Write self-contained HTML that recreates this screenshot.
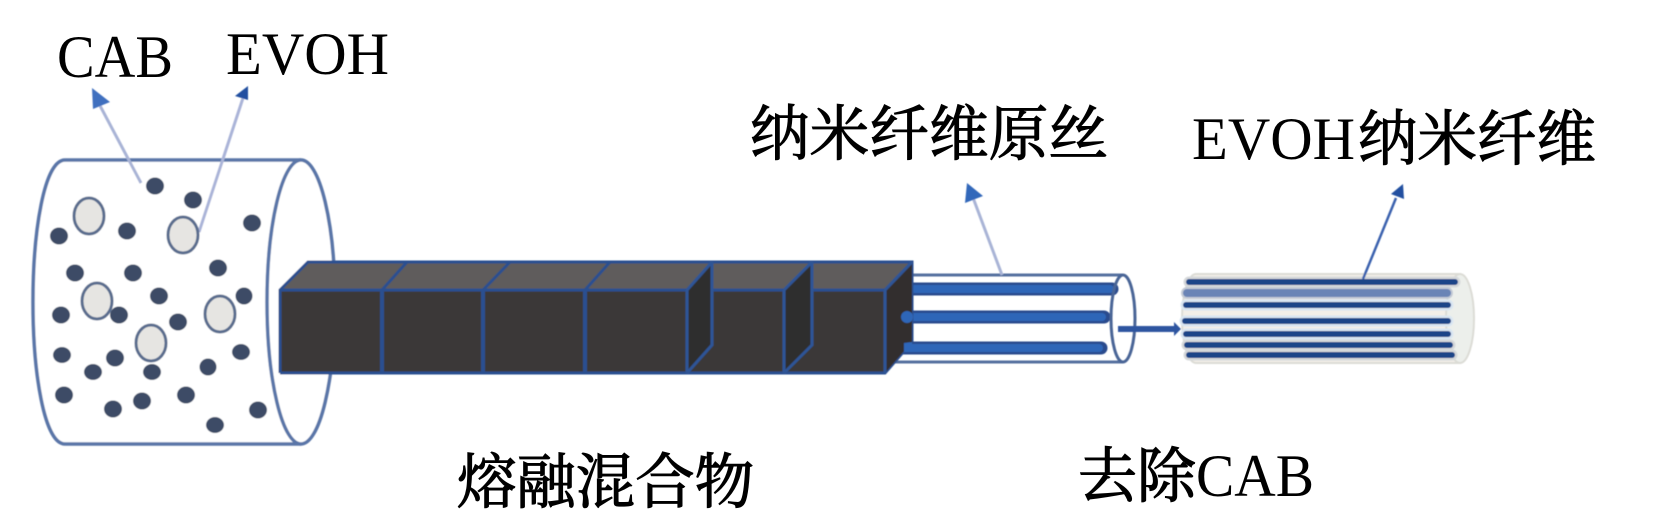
<!DOCTYPE html>
<html><head><meta charset="utf-8"><style>
html,body{margin:0;padding:0;background:#fff;width:1656px;height:528px;overflow:hidden}
svg{display:block}
text{fill:#000}
.lat{font-family:"Liberation Serif",serif;font-size:60px}
.cjk{font-family:"Liberation Serif","Noto Serif CJK SC",serif;font-size:60px;font-weight:400;stroke:#000;stroke-width:1.1px}
</style></head><body>
<svg width="1656" height="528" viewBox="0 0 1656 528" xmlns="http://www.w3.org/2000/svg">
<defs><filter id="b" x="-5%" y="-5%" width="110%" height="110%"><feGaussianBlur stdDeviation="0.6"/></filter></defs>
<g filter="url(#b)">
<!-- cylinder -->
<path d="M301 160H65C44 160 33 232 33 302C33 372 44 444 65 444H301" fill="#fff" stroke="#5a76a8" stroke-width="3.5"/>
<ellipse cx="301" cy="302" rx="34" ry="142" fill="#fff" stroke="#5a76a8" stroke-width="3.5"/>
<!-- arrows left -->
<path d="M141 183L97 100" stroke="#a9b4d6" stroke-width="3" fill="none"/>
<path d="M92 88L110 102L93 109Z" fill="#3f6fbf"/>
<path d="M199 232L243 98" stroke="#aab4d8" stroke-width="3" fill="none"/>
<path d="M248 86L248 100L235 96Z" fill="#204fa0"/>
<g fill="#3c4c66">
<ellipse cx="155" cy="186" rx="9" ry="8.5"/><ellipse cx="193" cy="200" rx="9" ry="8.5"/><ellipse cx="252" cy="223" rx="9" ry="8.5"/>
<ellipse cx="59" cy="236" rx="9" ry="8.5"/><ellipse cx="127" cy="231" rx="9" ry="8.5"/><ellipse cx="75" cy="273" rx="9" ry="8.5"/>
<ellipse cx="133" cy="273" rx="9" ry="8.5"/><ellipse cx="218" cy="268" rx="9" ry="8.5"/><ellipse cx="159" cy="296" rx="9" ry="8.5"/>
<ellipse cx="244" cy="296" rx="8.5" ry="8.5"/><ellipse cx="61" cy="315" rx="9" ry="8.5"/><ellipse cx="119" cy="315" rx="9" ry="8.5"/>
<ellipse cx="178" cy="322" rx="9" ry="8.5"/><ellipse cx="62" cy="355" rx="9" ry="8"/><ellipse cx="115" cy="358" rx="9" ry="8.5"/>
<ellipse cx="93" cy="372" rx="9" ry="8"/><ellipse cx="152" cy="372" rx="9" ry="8"/><ellipse cx="241" cy="352" rx="9" ry="8"/>
<ellipse cx="208" cy="367" rx="8.5" ry="8.5"/><ellipse cx="64" cy="395" rx="9" ry="8.5"/><ellipse cx="113" cy="409" rx="9" ry="8.5"/>
<ellipse cx="142" cy="401" rx="9" ry="8.5"/><ellipse cx="186" cy="395" rx="9" ry="8.5"/><ellipse cx="215" cy="425" rx="9" ry="8"/>
<ellipse cx="258" cy="410" rx="9" ry="8.5"/>
</g>
<g fill="#e6e5e2" stroke="#5a6d8e" stroke-width="3">
<ellipse cx="89" cy="216" rx="15" ry="18"/><ellipse cx="183" cy="235" rx="15" ry="18"/><ellipse cx="97" cy="301" rx="15" ry="18"/>
<ellipse cx="220" cy="314" rx="15" ry="18"/><ellipse cx="151" cy="343" rx="15" ry="18"/>
</g>
<!-- tube -->
<path d="M912 275H1123M887 362H1123" stroke="#54709f" stroke-width="3" fill="none"/>
<path d="M908 289H1112" stroke="#2b4c8e" stroke-width="13" stroke-linecap="round"/>
<path d="M908 289H1110" stroke="#2f66b8" stroke-width="8" stroke-linecap="round"/>
<path d="M908 317H1104" stroke="#2b4c8e" stroke-width="13" stroke-linecap="round"/>
<path d="M908 317H1102" stroke="#2f66b8" stroke-width="8" stroke-linecap="round"/>
<path d="M890 348H1101" stroke="#2b4c8e" stroke-width="13" stroke-linecap="round"/>
<path d="M890 348H1099" stroke="#2f66b8" stroke-width="8" stroke-linecap="round"/>
<!-- box -->
<path d="M280 290L308 262H912V342L885 373H280Z" fill="#3a3838"/>
<path d="M280 290L308 262H912L885 290Z" fill="#5f5c5c"/>
<g stroke="#2c4f90" fill="none" stroke-width="3">
<path d="M280 373V290L308 262H912V342L885 373H280"/>
<path d="M280 290H885L912 262"/>
<path d="M382 290V373M483 290V373M585 290V373" stroke-width="4"/>
<path d="M382 290L407 262M483 290L510 262M585 290L610 262"/>
</g>
<path d="M885 290L912 262V342L885 373Z" fill="#322f2f"/>
<path d="M687 290L712 264V345L687 373Z" fill="#2f2d2d"/>
<path d="M784 290L812 264V345L784 373Z" fill="#2f2d2d"/>
<g stroke="#2f5596" fill="none" stroke-width="3">
<path d="M885 290V373M885 290L912 262"/>
<path d="M687 290V373M712 262V345L687 373M687 290L712 262"/>
<path d="M784 290V373M812 262V345L784 373M784 290L812 262"/>
</g>
<circle cx="907" cy="317" r="6" fill="#2f66b8"/>
<path d="M904 343L912 342V352L904 352Z" fill="#2f66b8"/>
<ellipse cx="1123" cy="318.5" rx="12" ry="43.5" fill="none" stroke="#4a6596" stroke-width="3"/>
<path d="M1118 329H1176" stroke="#2f55a0" stroke-width="6"/>
<path d="M1174 322L1181 329L1174 336Z" fill="#2f55a0"/>
<!-- fibers -->
<path d="M1460 274H1196C1188 274 1182 295 1182 318.5C1182 342 1188 363 1196 363H1460Z" fill="#f3efe8" stroke="#dcdcd6" stroke-width="2"/>
<ellipse cx="1460" cy="318.5" rx="14" ry="44.5" fill="#ecefeb" stroke="#dcdcd6" stroke-width="2"/>
<g stroke-linecap="round" fill="none">
<path d="M1189 282H1455" stroke="#d5d8da" stroke-width="11"/>
<path d="M1187 293H1447" stroke="#c4cbd6" stroke-width="12"/>
<path d="M1186 305H1448" stroke="#d9e6f2" stroke-width="11"/>
<path d="M1185 321H1448" stroke="#d9e6f2" stroke-width="11"/>
<path d="M1186 334H1448" stroke="#d9e6f2" stroke-width="11"/>
<path d="M1187 345H1450" stroke="#d5d8da" stroke-width="11"/>
<path d="M1189 355H1452" stroke="#d5d8da" stroke-width="11"/>
<path d="M1189 282H1455" stroke="#1f4488" stroke-width="6"/>
<path d="M1187 293H1447" stroke="#6a84b6" stroke-width="8"/>
<path d="M1186 305H1448" stroke="#1f4488" stroke-width="6"/>
<path d="M1185 321H1448" stroke="#1f4488" stroke-width="6"/>
<path d="M1186 334H1448" stroke="#1f4488" stroke-width="6"/>
<path d="M1187 345H1450" stroke="#1f4488" stroke-width="6"/>
<path d="M1189 355H1452" stroke="#1f4488" stroke-width="6"/>
</g>
<!-- upper arrows -->
<path d="M1002 275L972 195" stroke="#a9b4d6" stroke-width="3" fill="none"/>
<path d="M967 183L983 196L965 203Z" fill="#3368ba"/>
<path d="M1363 279L1396 198" stroke="#3a62ae" stroke-width="2.5" fill="none"/>
<path d="M1403 184L1404 199L1391 194Z" fill="#204fa0"/>
</g>
<text class="lat" x="57" y="77" textLength="116" lengthAdjust="spacingAndGlyphs">CAB</text>
<text class="lat" x="226" y="74" textLength="163" lengthAdjust="spacingAndGlyphs">EVOH</text>
<text class="cjk" x="750" y="155" textLength="358" lengthAdjust="spacingAndGlyphs">纳米纤维原丝</text>
<text class="lat" x="1192" y="159" textLength="163" lengthAdjust="spacingAndGlyphs">EVOH</text>
<text class="cjk" x="1358" y="160" textLength="238" lengthAdjust="spacingAndGlyphs">纳米纤维</text>
<text class="cjk" x="457" y="503" textLength="297" lengthAdjust="spacingAndGlyphs">熔融混合物</text>
<text class="cjk" x="1078" y="497" textLength="118" lengthAdjust="spacingAndGlyphs">去除</text>
<text class="lat" x="1196" y="496" textLength="118" lengthAdjust="spacingAndGlyphs">CAB</text>
</svg>
</body></html>
